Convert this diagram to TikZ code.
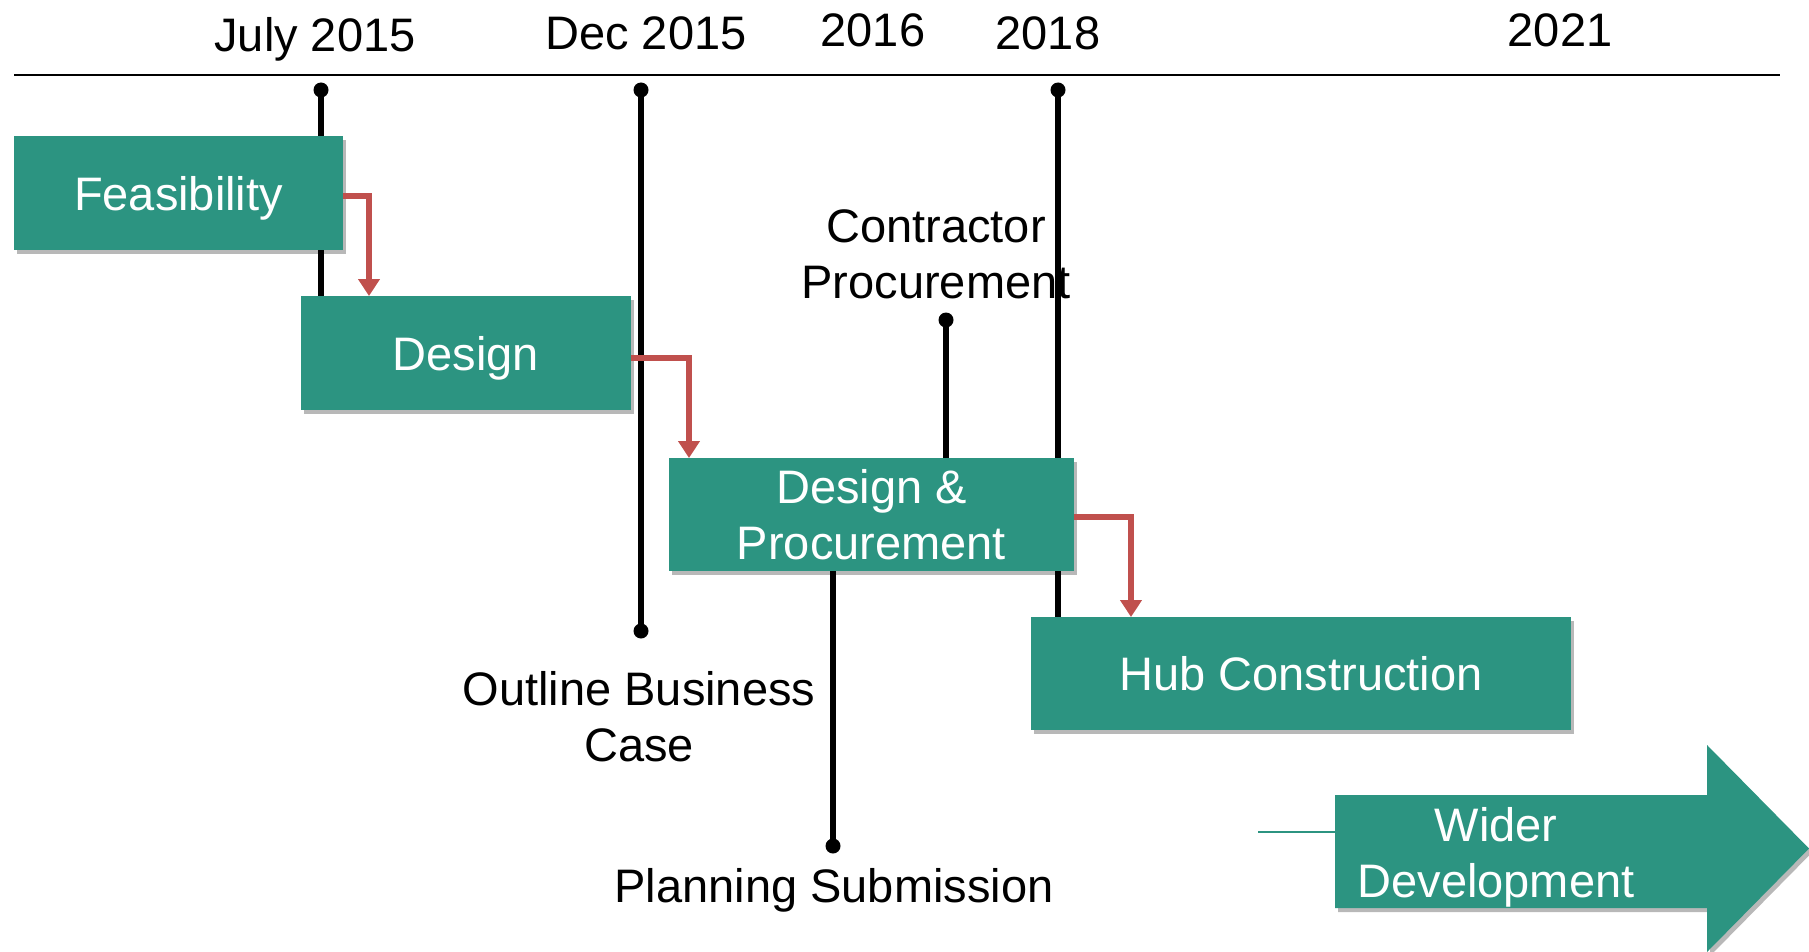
\documentclass[tikz,border=0pt]{standalone}
\usepackage{fontspec}
\setmainfont{Liberation Sans}
\usetikzlibrary{arrows.meta,shadows}
\definecolor{tealbox}{RGB}{44,148,129}
\definecolor{flowred}{RGB}{192,80,77}
\pgfdeclarelayer{paper}
\pgfdeclarelayer{under}
\pgfsetlayers{paper,under,main}
\begin{document}
\begin{tikzpicture}[x=1pt,y=-1pt,
  every node/.style={font=\fontsize{47}{56}\selectfont, inner sep=0pt, outer sep=0pt},
  box/.style={fill=tealbox, text=white, align=center, anchor=north west,
    drop shadow={shadow xshift=3pt, shadow yshift=-4pt, opacity=0.28, fill=black}},
  msline/.style={line width=6.5pt, black},
  msdot/.style={circle, fill=black, minimum size=15pt, inner sep=0pt},
  flow/.style={flowred, line width=6pt, -{Triangle[width=21pt,length=17pt]}},
  lbl/.style={text=black, align=center}]
\useasboundingbox (0,0) rectangle (1809,952);
\begin{pgfonlayer}{paper}
  \fill[white] (0,0) rectangle (1809,952);
\end{pgfonlayer}

% timeline
\coordinate (tl0) at (14,75);
\coordinate (tl1) at (1780,75);
\draw[line width=1.6pt, black] (tl0) -- (tl1);

% year labels
\node[lbl, anchor=base] (yJul) at (315,52) {July 2015};
\node[lbl, anchor=base] (yDec) at (646,50) {Dec 2015};
\node[lbl, anchor=base] (y16) at (873,47) {2016};
\node[lbl, anchor=base] (y18) at (1048,50) {2018};
\node[lbl, anchor=base] (y21) at (1560,47) {2021};

% boxes
\node[box, minimum width=329pt, minimum height=114pt, text depth=0pt] (feas) at (14,136) {Feasibility};
\node[box, minimum width=330pt, minimum height=114pt, text depth=0pt] (design) at (301,296) {Design};
\node[box, minimum width=405pt, minimum height=113pt] (dp) at (669,458) {Design \&\\Procurement};
\node[box, minimum width=540pt, minimum height=113pt] (hub) at (1031,617) {Hub Construction};

% wider development arrow
\fill[white] (1242,791) rectangle (1335,930);
\coordinate (wl0) at (1258,832);
\coordinate (wl1) at (1335,832);
\draw[tealbox, line width=1.5pt] (wl0) -- (wl1);
\fill[tealbox, drop shadow={shadow xshift=3pt, shadow yshift=-4pt, opacity=0.28, fill=black}]
  (1335,795) -- (1707,795) -- (1707,745) -- (1809,848.5) -- (1707,952) -- (1707,908) -- (1335,908) -- cycle;
\node[text=white, align=center] (wider) at (1496,857) {Wider\\Development};

% milestone dots
\node[msdot] (j0) at (321,90) {};
\node[msdot] (d0) at (641,90) {};
\node[msdot] (d1) at (641,631) {};
\node[msdot] (e0) at (1058,90) {};
\node[msdot] (c0) at (946,320) {};
\node[msdot] (p0) at (833,846) {};

% milestone lines (behind boxes)
\begin{pgfonlayer}{under}
  \draw[msline] (j0.center) -- (j0 |- design.north);
  \draw[msline] (d0.center) -- (d1.center);
  \draw[msline] (e0.center) -- (e0 |- hub.north);
  \draw[msline] (c0.center) -- (c0 |- dp.north);
  \draw[msline] (p0 |- dp.south) -- (p0.center);
\end{pgfonlayer}

% flow arrows
\draw[flow] ([yshift=-3pt]feas.east) -| ([xshift=68pt]design.north west);
\draw[flow] ([yshift=-5pt]design.east) -| ([xshift=20pt]dp.north west);
\draw[flow] ([yshift=-2pt]dp.east) -| ([xshift=100pt]hub.north west);

% milestone labels
\node[lbl] (cp) at (936,254) {Contractor\\Procurement};
\node[lbl] (obc) at (639,717) {Outline Business\\Case};
\node[lbl, anchor=base] (ps) at (834,902) {Planning Submission};
\end{tikzpicture}
\end{document}
